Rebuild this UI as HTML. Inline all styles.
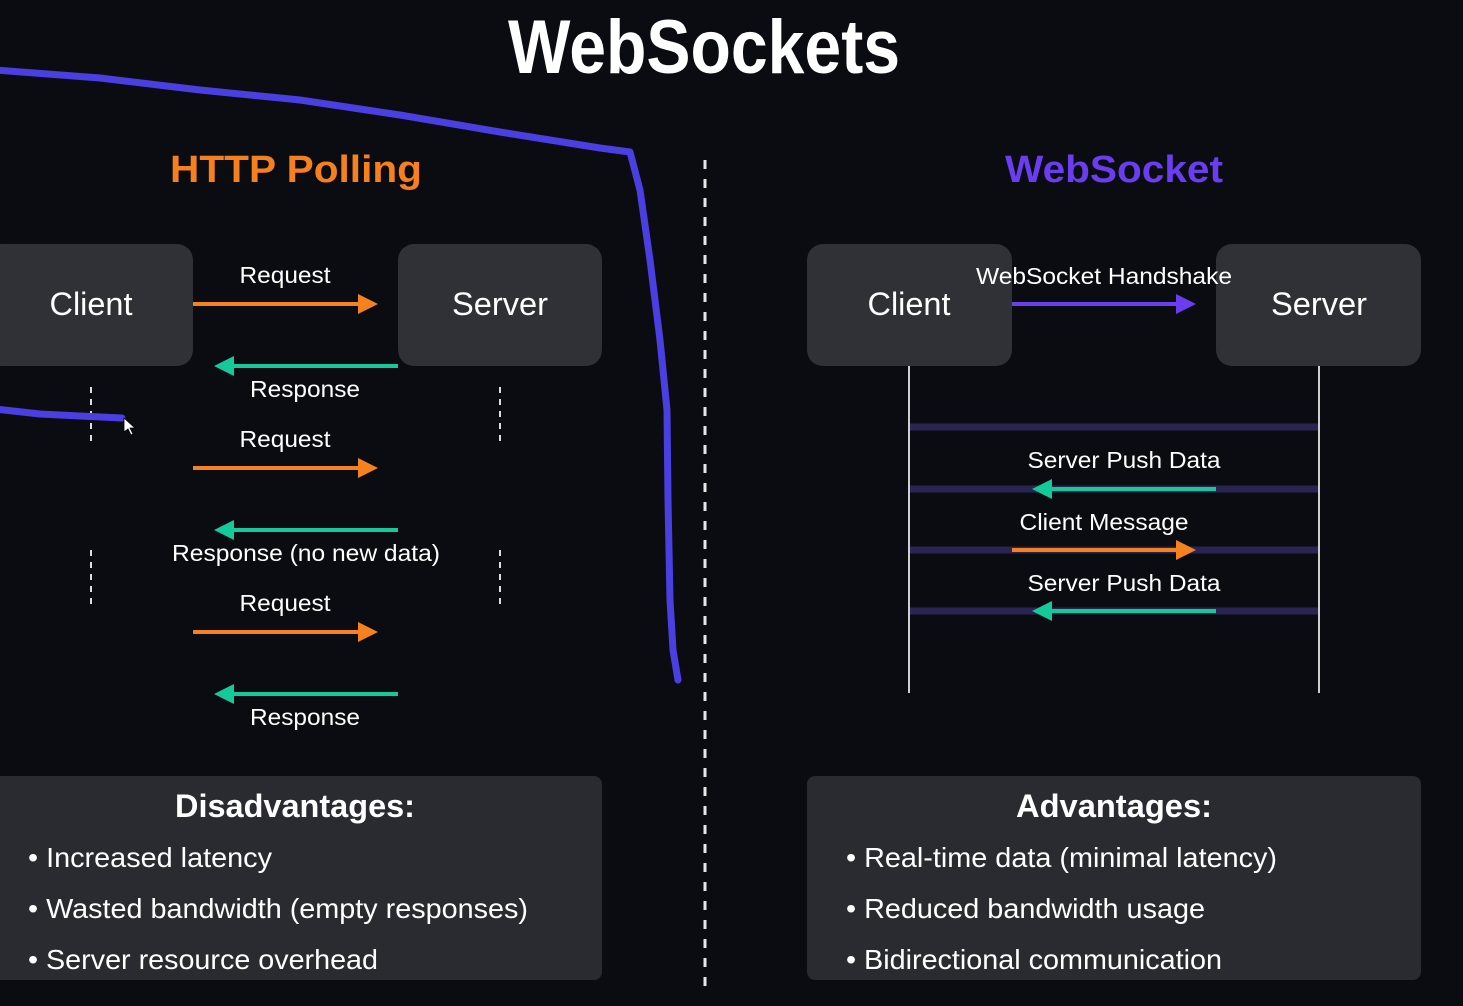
<!DOCTYPE html>
<html><head><meta charset="utf-8"><style>
html,body{margin:0;padding:0;background:#0b0c11;}
svg{display:block}
text{font-family:"Liberation Sans",sans-serif;fill:#fff}
</style></head><body>
<svg width="1463" height="1006" viewBox="0 0 1463 1006">
<rect width="1463" height="1006" fill="#0b0c11"/>
<text x="704" y="73" font-size="76" font-weight="bold" text-anchor="middle" textLength="392" lengthAdjust="spacingAndGlyphs">WebSockets</text>
<text x="296" y="182" font-size="38" font-weight="bold" text-anchor="middle" style="fill:#f7801e" textLength="252" lengthAdjust="spacingAndGlyphs">HTTP Polling</text>
<text x="1114" y="182" font-size="38" font-weight="bold" text-anchor="middle" style="fill:#6a3df0" textLength="218" lengthAdjust="spacingAndGlyphs">WebSocket</text>
<line x1="705" y1="160" x2="705" y2="992" stroke="#e6e6e6" stroke-width="3" stroke-dasharray="9,10"/>

<!-- left nodes -->
<rect x="-14" y="244" width="207" height="122" rx="16" fill="#2f3137"/>
<rect x="398" y="244" width="204" height="122" rx="16" fill="#2f3137"/>
<text x="91" y="315" font-size="32" text-anchor="middle" textLength="83" lengthAdjust="spacingAndGlyphs">Client</text>
<text x="500" y="315" font-size="32" text-anchor="middle" textLength="96" lengthAdjust="spacingAndGlyphs">Server</text>
<g stroke="#dddddd" stroke-width="2" stroke-dasharray="6,6">
<line x1="91" y1="387" x2="91" y2="444"/><line x1="500" y1="387" x2="500" y2="444"/>
<line x1="91" y1="550" x2="91" y2="608"/><line x1="500" y1="550" x2="500" y2="608"/>
</g>
<g font-size="23" text-anchor="middle">
<text x="285" y="283" textLength="91" lengthAdjust="spacingAndGlyphs">Request</text>
<text x="305" y="397" textLength="110" lengthAdjust="spacingAndGlyphs">Response</text>
<text x="285" y="447" textLength="91" lengthAdjust="spacingAndGlyphs">Request</text>
<text x="306" y="561" textLength="268" lengthAdjust="spacingAndGlyphs">Response (no new data)</text>
<text x="285" y="611" textLength="91" lengthAdjust="spacingAndGlyphs">Request</text>
<text x="305" y="725" textLength="110" lengthAdjust="spacingAndGlyphs">Response</text>
</g>
<g stroke-width="4">
<line x1="193" y1="304" x2="360" y2="304" stroke="#f5821f"/><path d="M358,294 L378,304 L358,314z" fill="#f5821f"/>
<line x1="398" y1="366" x2="232" y2="366" stroke="#14c99a"/><path d="M234,356 L214,366 L234,376z" fill="#14c99a"/>
<line x1="193" y1="468" x2="360" y2="468" stroke="#f5821f"/><path d="M358,458 L378,468 L358,478z" fill="#f5821f"/>
<line x1="398" y1="530" x2="232" y2="530" stroke="#14c99a"/><path d="M234,520 L214,530 L234,540z" fill="#14c99a"/>
<line x1="193" y1="632" x2="360" y2="632" stroke="#f5821f"/><path d="M358,622 L378,632 L358,642z" fill="#f5821f"/>
<line x1="398" y1="694" x2="232" y2="694" stroke="#14c99a"/><path d="M234,684 L214,694 L234,704z" fill="#14c99a"/>
</g>

<!-- right -->
<rect x="807" y="244" width="205" height="122" rx="16" fill="#2f3137"/>
<rect x="1216" y="244" width="205" height="122" rx="16" fill="#2f3137"/>
<text x="909" y="315" font-size="32" text-anchor="middle" textLength="83" lengthAdjust="spacingAndGlyphs">Client</text>
<text x="1319" y="315" font-size="32" text-anchor="middle" textLength="96" lengthAdjust="spacingAndGlyphs">Server</text>
<text x="1104" y="284" font-size="23" text-anchor="middle" textLength="256" lengthAdjust="spacingAndGlyphs">WebSocket Handshake</text>
<line x1="1012" y1="304" x2="1180" y2="304" stroke="#6a3df0" stroke-width="4"/><path d="M1176,294 L1196,304 L1176,314z" fill="#6a3df0"/>
<line x1="909" y1="366" x2="909" y2="693" stroke="#cfcfcf" stroke-width="2"/>
<line x1="1319" y1="366" x2="1319" y2="693" stroke="#cfcfcf" stroke-width="2"/>
<g stroke="#2a2452" stroke-width="7">
<line x1="910" y1="427" x2="1318" y2="427"/><line x1="910" y1="489" x2="1318" y2="489"/>
<line x1="910" y1="550" x2="1318" y2="550"/><line x1="910" y1="611" x2="1318" y2="611"/>
</g>
<g font-size="23" text-anchor="middle">
<text x="1124" y="468" textLength="193" lengthAdjust="spacingAndGlyphs">Server Push Data</text>
<text x="1104" y="530" textLength="169" lengthAdjust="spacingAndGlyphs">Client Message</text>
<text x="1124" y="591" textLength="193" lengthAdjust="spacingAndGlyphs">Server Push Data</text>
</g>
<g stroke-width="4">
<line x1="1216" y1="489" x2="1050" y2="489" stroke="#14c99a"/><path d="M1052,479 L1032,489 L1052,499z" fill="#14c99a"/>
<line x1="1012" y1="550" x2="1180" y2="550" stroke="#f5821f"/><path d="M1176,540 L1196,550 L1176,560z" fill="#f5821f"/>
<line x1="1216" y1="611" x2="1050" y2="611" stroke="#14c99a"/><path d="M1052,601 L1032,611 L1052,621z" fill="#14c99a"/>
</g>

<!-- bottom boxes -->
<rect x="-10" y="776" width="612" height="204" rx="8" fill="#2a2b31"/>
<rect x="807" y="776" width="614" height="204" rx="8" fill="#2a2b31"/>
<text x="295" y="817" font-size="32" font-weight="bold" text-anchor="middle" textLength="240" lengthAdjust="spacingAndGlyphs">Disadvantages:</text>
<text x="1114" y="817" font-size="32" font-weight="bold" text-anchor="middle" textLength="196" lengthAdjust="spacingAndGlyphs">Advantages:</text>
<g font-size="28">
<text x="28" y="867" textLength="244" lengthAdjust="spacingAndGlyphs">• Increased latency</text>
<text x="28" y="918" textLength="500" lengthAdjust="spacingAndGlyphs">• Wasted bandwidth (empty responses)</text>
<text x="28" y="969" textLength="350" lengthAdjust="spacingAndGlyphs">• Server resource overhead</text>
<text x="846" y="867" textLength="431" lengthAdjust="spacingAndGlyphs">• Real-time data (minimal latency)</text>
<text x="846" y="918" textLength="359" lengthAdjust="spacingAndGlyphs">• Reduced bandwidth usage</text>
<text x="846" y="969" textLength="376" lengthAdjust="spacingAndGlyphs">• Bidirectional communication</text>
</g>

<!-- pen strokes -->
<g fill="none" stroke="#4a3fe0" stroke-width="7" stroke-linecap="round" stroke-linejoin="round">
<path d="M-5,70 L100,78 L200,90 L300,100 L400,115 L500,132 L600,148 L630,152 L640,190 L650,260 L660,340 L667,410 L668,500 L670,600 L673,650 L678,680"/>
<path d="M-5,409 L40,414 L80,416 L122,418"/>
</g>
<path d="M124,418 L124,432 L128,429 L131,435 L133,434 L130,428 L135,428z" fill="#fff" stroke="#000" stroke-width="0.8"/>
</svg>
</body></html>
